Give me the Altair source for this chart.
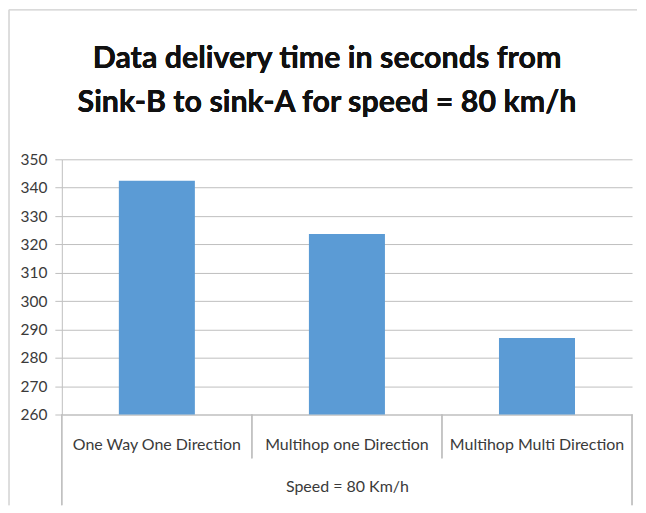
import altair as alt
import pandas as pd

categories = ["One Way One Direction", "Multihop one Direction", "Multihop Multi Direction"]
values = [342.4, 323.7, 287.0]
y_ticks = list(range(260, 351, 10))
title_lines = ["Data delivery time in seconds from", "Sink-B to sink-A for speed = 80 km/h"]
x_title = "Speed = 80 Km/h"

W, H = 572, 256
FONT = "Lato"
GRID = "#bfbfbf"
TXT = "#3a3a3a"

df = pd.DataFrame({"cat": categories, "val": values})

bars = alt.Chart(df).mark_bar(color="#5B9BD5", clip=True).encode(
    x=alt.X(
        "cat:N", sort=categories,
        scale=alt.Scale(paddingInner=0.6, paddingOuter=0.3),
        axis=alt.Axis(
            title=x_title, labelAngle=0, ticks=False, domainColor=GRID,
            labelPadding=22, labelFontSize=16, labelFont=FONT, labelColor=TXT,
            labelLimit=400, titleFont=FONT, titleFontSize=16, titleFontWeight="normal",
            titleColor=TXT, titlePadding=26,
        ),
    ),
    y=alt.Y(
        "val:Q",
        scale=alt.Scale(domain=[260, 350], nice=False, zero=False),
        axis=alt.Axis(
            title=None, values=y_ticks, grid=True, gridColor=GRID, tickColor=GRID,
            tickSize=7, domainColor=GRID, labelPadding=8, labelFontSize=15.5,
            labelFont=FONT, labelColor=TXT,
        ),
    ),
)

title = alt.Chart(df).mark_text(
    lineBreak="\n", lineHeight=45, fontSize=30.5, font=FONT, fontWeight="bold",
    color="#111111", align="center", baseline="alphabetic",
).encode(
    x=alt.value(266), y=alt.value(-92), text=alt.value("\n".join(title_lines))
)

def rule(x, x2, y, y2, color):
    return alt.Chart(df).mark_rule(color=color, strokeWidth=1).encode(
        x=alt.value(x), x2=alt.value(x2), y=alt.value(y), y2=alt.value(y2)
    )

FRAME = "#d9d9d9"
frame = [
    rule(-53, 577, -150, -150, FRAME),
    rule(-53, -53, -150, 347, FRAME),
]
table = [
    rule(0, 0, H, 347, GRID),
    rule(W, W, H, 347, GRID),
    rule(W / 3, W / 3, H, 300, GRID),
    rule(2 * W / 3, 2 * W / 3, H, 300, GRID),
]

chart = alt.layer(bars, title, *frame, *table).properties(
    width=W, height=H, padding=0, background="white"
).configure_view(stroke=None)

chart.save("out.html", embed_options={"renderer": "svg", "actions": False})
